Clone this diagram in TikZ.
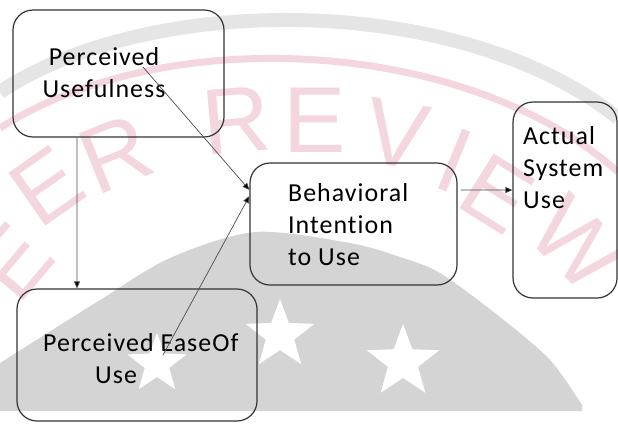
\documentclass[tikz,border=0pt]{standalone}
\usepackage{fontspec}
\setmainfont{Carlito}[LetterSpace=4,Ligatures=NoCommon]
\newfontfamily\wmfont{Liberation Sans}
\usetikzlibrary{arrows.meta,shapes.geometric}
\definecolor{wmpink}{RGB}{244,214,222}

\begin{document}
\begin{tikzpicture}[x=1bp,y=-1bp,
  box/.style={draw=black!80,line width=1.2bp,rounded corners=20bp,inner sep=0pt},
  lbl/.style={font=\fontsize{26}{32}\selectfont,inner sep=0pt,anchor=base west,align=left},
  link/.style={draw=black!70,line width=0.7bp,-{Triangle[length=7bp,width=6bp,fill=black]}},
  wmletter/.style={font=\wmfont\fontsize{94}{94}\selectfont,text=wmpink,inner sep=0pt},
  wstar/.style={star,star points=5,star point ratio=2.4,fill=white,inner sep=0pt}]
\useasboundingbox (0,0) rectangle (618,423);
%\draw[help lines,step=50] (0,0) grid (618,423);
% watermark behind the model
\draw[black!10,line width=14bp] (0,92) .. controls (150,-8) and (460,-8) .. (618,118);
\draw[wmpink,line width=7bp] (0,128) .. controls (170,20) and (470,40) .. (618,172);
\draw (14,262) node[wmletter,rotate=50] (wm0) {E};
\draw (47,186) node[wmletter,rotate=35] (wm1) {E};
\draw (116,154) node[wmletter,rotate=22] (wm2) {R};
\draw (236,120) node[wmletter,rotate=5] (wm3) {R};
\draw (315,120) node[wmletter] (wm4) {E};
\draw (397,134) node[wmletter,rotate=-10] (wm5) {V};
\draw (455,160) node[wmletter,rotate=-22] (wm6) {I};
\draw (497,194) node[wmletter,rotate=-32] (wm7) {E};
\draw (578,244) node[wmletter,rotate=-45] (wm8) {W};
\fill[black!17] plot[smooth] coordinates {(0,363) (100,300) (170,258) (255,232) (350,243) (400,257) (440,273) (500,317) (550,360) (582,405)} -- (582,411) -- (0,411) -- cycle;
\node[wstar,minimum size=72bp] (star1) at (280,335) {};
\node[wstar,minimum size=76bp] (star2) at (403,362) {};
\node[wstar,minimum size=62bp] (star3) at (157,364) {};

% boxes
\draw (118.5,73.5) node[box,minimum width=211bp,minimum height=127bp] (pu) {};
\draw (353.5,224) node[box,minimum width=207bp,minimum height=122bp] (bi) {};
\draw (565,200) node[box,minimum width=104bp,minimum height=196bp] (as) {};
\draw (137,355) node[box,minimum width=240bp,minimum height=132bp] (pe) {};

% texts (base = last line)
\draw (104,97) node[lbl,align=center,anchor=base] (pu-txt) {Perceived\\Usefulness};
\draw (288,265) node[lbl] (bi-txt) {Behavioral\\Intention\\to Use};
\draw (523,208) node[lbl] (as-txt) {Actual\\System\\Use};
\draw (43,383) node[lbl] (pe-txt) {Perceived EaseOf\\\hspace*{52bp}Use};

% paths
\coordinate (pu-out) at (143,67);
\coordinate (pe-out) at (163,355);
\draw[link] (pu-out) -- ([yshift=34bp]bi.west);
\draw[link] (pe-out) -- ([yshift=28bp]bi.west);
\draw[link] ([xshift=-41.5bp]pu.south) -- ([xshift=-60bp]pe.north);
\draw[link] ([xshift=3bp,yshift=34bp]bi.east) -- ([yshift=10bp]as.west);
\end{tikzpicture}
\end{document}
